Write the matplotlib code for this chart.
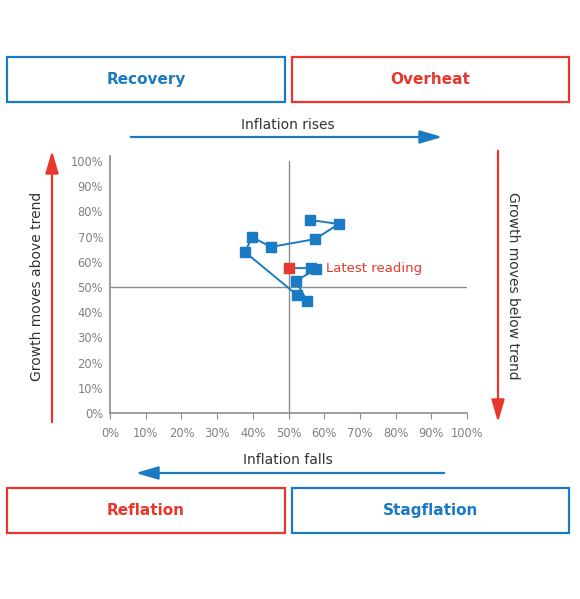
import matplotlib
matplotlib.use("Agg")
import matplotlib.pyplot as plt
from matplotlib.patches import Rectangle, FancyArrowPatch

# data (inflation %, growth %)
inflation = [56.0, 64.1, 57.4, 45.1, 39.8, 37.8, 52.4, 55.2, 52.1, 57.7, 56.3]
growth = [76.6, 75.0, 69.0, 65.9, 69.8, 63.9, 46.8, 44.4, 52.4, 57.1, 57.5]
latest = (50.1, 57.5)
ticks = list(range(0, 101, 10))
tick_labels = [f"{t}%" for t in ticks]

BLUE = "#1a7ac4"
RED = "#e8372c"
GREY = "#8c8c8c"
W, H = 580, 599

fig = plt.figure(figsize=(5.8, 5.99), dpi=100)


def fx(px):
    return px / W


def fy(py):
    return 1 - py / H


ax = fig.add_axes([fx(110), fy(413), fx(467) - fx(110), fy(161) - fy(413)])
ax.set_xlim(0, 100)
ax.set_ylim(0, 100)
ax.set_xticks(ticks)
ax.set_xticklabels(tick_labels)
ax.set_yticks(ticks)
ax.set_yticklabels(tick_labels)
ax.spines["top"].set_visible(False)
ax.spines["right"].set_visible(False)
for s in ["left", "bottom"]:
    ax.spines[s].set_color(GREY)
    ax.spines[s].set_linewidth(1.2)
ax.spines["left"].set_bounds(0, 102)
ax.tick_params(axis="x", colors=GREY, labelcolor="#808080", labelsize=8.3, length=4, pad=6)
ax.tick_params(axis="y", colors=GREY, labelcolor="#808080", labelsize=8.3, length=0, pad=5)
ax.axvline(50, color=GREY, lw=1, zorder=1)
ax.axhline(50, color=GREY, lw=1, zorder=1)

ax.plot(inflation + [latest[0]], growth + [latest[1]], color=BLUE, lw=1.4, zorder=2)
ax.plot(inflation, growth, "s", color=BLUE, ms=7, zorder=3)
ax.plot([latest[0]], [latest[1]], "s", color=RED, ms=7, zorder=4)
ax.text(60.5, latest[1], "Latest reading", color=RED, fontsize=9.5, va="center", ha="left")

# quadrant boxes
boxes = [
    (7, 57, 278, 45, BLUE, "Recovery"),
    (292, 57, 277, 45, RED, "Overheat"),
    (7, 488, 278, 45, RED, "Reflation"),
    (292, 488, 277, 45, BLUE, "Stagflation"),
]
for x0, y0, w, h, c, label in boxes:
    fig.patches.append(Rectangle((fx(x0), fy(y0 + h)), w / W, h / H, transform=fig.transFigure,
                                 fill=False, edgecolor=c, lw=1.6))
    fig.text(fx(x0 + w / 2), fy(y0 + h / 2), label, color=c, fontsize=11, fontweight="bold",
             ha="center", va="center")


def arrow(p0, p1, c):
    fig.patches.append(FancyArrowPatch((fx(p0[0]), fy(p0[1])), (fx(p1[0]), fy(p1[1])),
                                       transform=fig.transFigure,
                                       arrowstyle="-|>,head_length=0.85,head_width=0.25",
                                       mutation_scale=16, color=c, lw=1.6))


arrow((128, 137), (445, 137), BLUE)
arrow((447, 473), (133, 473), BLUE)
arrow((52, 425), (52, 148), RED)
arrow((498, 148), (498, 425), RED)

fig.text(fx(288), fy(125), "Inflation rises", fontsize=10, color="#333333", ha="center", va="center")
fig.text(fx(288), fy(460), "Inflation falls", fontsize=10, color="#333333", ha="center", va="center")
fig.text(fx(37), fy(286), "Growth moves above trend", fontsize=10, color="#333333",
         ha="center", va="center", rotation=90)
fig.text(fx(513), fy(286), "Growth moves below trend", fontsize=10, color="#333333",
         ha="center", va="center", rotation=-90)

fig.savefig("out.png", dpi=100)
